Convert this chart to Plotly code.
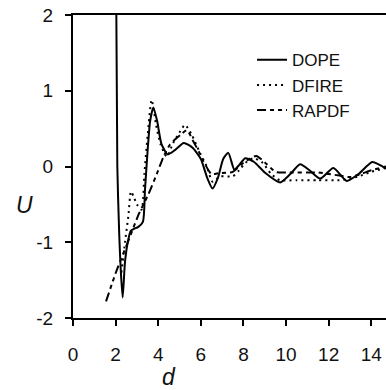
import plotly.graph_objects as go

# Distance d and potential U for each statistical potential
dope_d = [2.02, 2.08, 2.17, 2.24, 2.33, 2.44, 2.57, 2.71, 2.88, 3.05, 3.28, 3.38, 3.5, 3.62, 3.77,
          3.95, 4.15, 4.45, 4.8, 5.2, 5.6, 6.0, 6.3, 6.55, 6.8, 7.05, 7.29, 7.57, 7.8, 8.08, 8.5,
          9.0, 9.72, 10.2, 10.66, 11.1, 11.6, 12.22, 12.85, 13.4, 14.05, 14.7]
dope_u = [2.6, 0.0, -0.9, -1.36, -1.73, -1.26, -1.0, -0.85, -0.82, -0.8, -0.73, -0.3, 0.2, 0.6, 0.78,
          0.6, 0.3, 0.16, 0.22, 0.31, 0.25, 0.1, -0.15, -0.29, -0.15, 0.1, 0.18, -0.04, 0.02, 0.11, 0.06,
          -0.08, -0.21, -0.1, 0.03, -0.05, -0.16, -0.02, -0.19, -0.1, 0.06, -0.03]

dfire_d = [2.27, 2.44, 2.6, 2.72, 2.85, 3.0, 3.22, 3.35, 3.5, 3.69, 3.9, 4.1, 4.4, 4.7, 5.0, 5.26,
           5.57, 5.96, 6.28, 6.55, 6.9, 7.5, 7.8, 8.1, 8.47, 8.9, 9.3, 9.7, 10.5, 11.5, 12.5, 13.0,
           13.5, 14.0, 14.7]
dfire_u = [-1.4, -1.0, -0.65, -0.33, -0.4, -0.5, -0.57, -0.1, 0.4, 0.88, 0.55, 0.3, 0.13, 0.31, 0.45, 0.55,
           0.42, 0.18, 0.0, -0.2, -0.13, -0.13, -0.05, 0.05, 0.11, 0.05, -0.1, -0.18, -0.18, -0.18, -0.18, -0.16,
           -0.12, -0.07, -0.02]

rapdf_d = [1.55, 2.05, 2.6, 3.1, 3.55, 4.0, 4.25, 4.55, 4.8, 5.05, 5.35, 5.65, 5.9, 6.12, 6.5, 6.8,
           7.5, 8.0, 8.6, 9.1, 9.5, 10.0, 11.5, 12.5, 13.0, 13.5, 14.0, 14.7]
rapdf_u = [-1.78, -1.37, -0.98, -0.62, -0.36, -0.05, 0.13, 0.29, 0.36, 0.42, 0.48, 0.33, 0.2, 0.07, -0.1, -0.09,
           -0.07, 0.05, 0.14, 0.03, -0.07, -0.08, -0.08, -0.12, -0.14, -0.1, -0.05, 0.0]

x_ticks = [0, 2, 4, 6, 8, 10, 12, 14]
y_ticks = [-2, -1, 0, 1, 2]

FONT = "Liberation Sans, Arial, sans-serif"

fig = go.Figure()
fig.add_trace(go.Scatter(x=dope_d, y=dope_u, mode="lines", name="DOPE", legendgroup="a",
                         line=dict(color="black", width=2, shape="spline", smoothing=0.6)))
fig.add_trace(go.Scatter(x=dfire_d, y=dfire_u, mode="lines", name="DFIRE", legendgroup="b",
                         line=dict(color="black", width=2, dash="2px,4px", shape="spline", smoothing=0.6)))
fig.add_trace(go.Scatter(x=rapdf_d, y=rapdf_u, mode="lines", name="RAPDF", legendgroup="c",
                         line=dict(color="black", width=2, dash="9px,4px,4px,4px,4px,4px",
                                   shape="spline", smoothing=0.6)))

fig.update_layout(
    width=386, height=390,
    margin=dict(l=73, r=0, t=15, b=72),
    paper_bgcolor="white", plot_bgcolor="white",
    font=dict(family=FONT, color="#111"),
    legend=dict(x=0.572, y=0.91, xanchor="left", yanchor="top",
                bgcolor="rgba(0,0,0,0)", font=dict(size=17, family=FONT),
                tracegroupgap=0),
    annotations=[
        dict(text="<i>U</i>", xref="paper", yref="paper", x=-0.1565, y=0.373,
             xanchor="center", yanchor="middle", showarrow=False, font=dict(size=23)),
        dict(text="<i>d</i>", xref="paper", yref="paper", x=0.307, y=-0.195,
             xanchor="center", yanchor="middle", showarrow=False, font=dict(size=23)),
    ],
)
fig.update_xaxes(range=[0, 14.69], tickvals=x_ticks, ticktext=[str(v) for v in x_ticks],
                 showgrid=False, zeroline=False, showline=True, linecolor="black", linewidth=2,
                 mirror=True, ticks="outside", ticklen=6, tickwidth=1.5, tickcolor="black",
                 tickfont=dict(size=19), ticklabelstandoff=12)
fig.update_yaxes(range=[-2, 2], tickvals=y_ticks, ticktext=[str(v) for v in y_ticks],
                 showgrid=False, zeroline=False, showline=True, linecolor="black", linewidth=2,
                 ticks="outside", ticklen=6, tickwidth=1.5, tickcolor="black",
                 tickfont=dict(size=19), ticklabelstandoff=8)

fig.write_html("out.html")
